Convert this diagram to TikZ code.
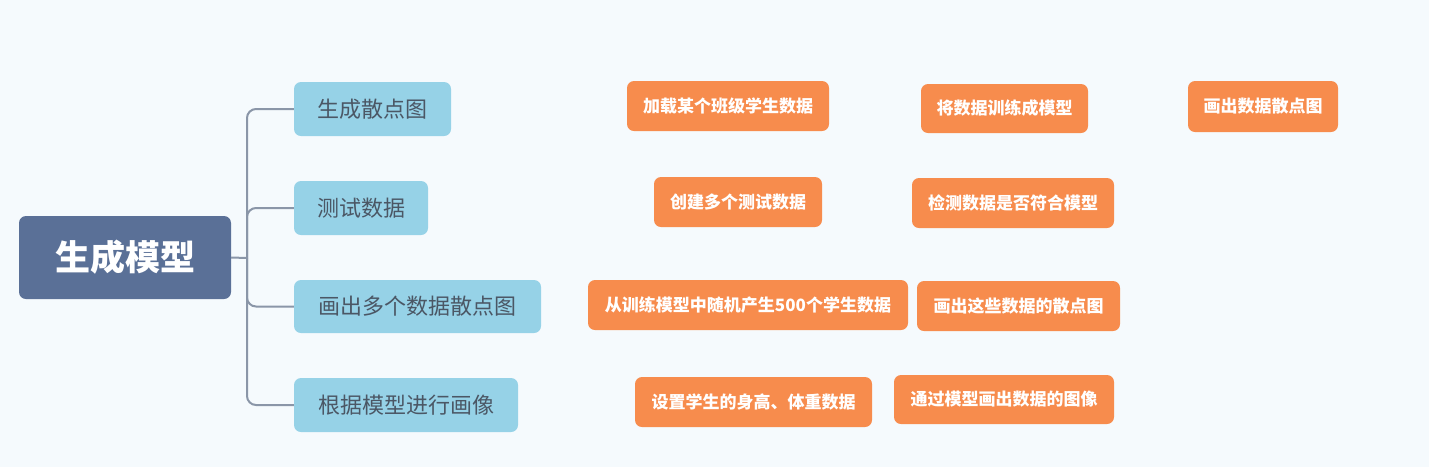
\documentclass[tikz,border=0pt]{standalone}
\usepackage{fontspec}
\newfontfamily\cjk{Noto Sans CJK SC}
\definecolor{bg}{HTML}{F5FAFD}
\definecolor{rootc}{HTML}{5A7097}
\definecolor{childc}{HTML}{96D2E7}
\definecolor{childt}{HTML}{4B5765}
\definecolor{orangec}{HTML}{F78C4D}
\definecolor{linec}{HTML}{8A96A8}
\tikzset{
  rootbox/.style={fill=rootc, rounded corners=7pt, inner sep=0pt, text=white,
    font=\cjk\bfseries\fontsize{35}{35}\selectfont},
  childbox/.style={fill=childc, rounded corners=7pt, inner sep=0pt, text=childt,
    font=\cjk\fontsize{22}{22}\selectfont},
  leafbox/.style={fill=orangec, rounded corners=7pt, inner sep=0pt, text=white,
    font=\cjk\bfseries\fontsize{17}{17}\selectfont},
  conn/.style={draw=linec, line width=2pt, rounded corners=9pt}
}
\begin{document}
\begin{tikzpicture}[x=1pt,y=-1pt]
\fill[bg] (0,0) rectangle (1429,467);
\useasboundingbox (0,0) rectangle (1429,467);
\node[rootbox, minimum width=212pt, minimum height=83pt] (root) at (125,257.5) {生成模型};
\node[childbox, minimum width=157pt, minimum height=54pt] (c1) at (372.5,109) {生成散点图};
\node[childbox, minimum width=134pt, minimum height=54pt] (c2) at (361,208) {测试数据};
\node[childbox, minimum width=247pt, minimum height=53pt] (c3) at (417.5,306.5) {画出多个数据散点图};
\node[childbox, minimum width=224pt, minimum height=54pt] (c4) at (406,405) {根据模型进行画像};
\node[leafbox, minimum width=202pt, minimum height=50pt] (l1a) at (728,106) {加载某个班级学生数据};
\node[leafbox, minimum width=167pt, minimum height=49pt] (l1b) at (1004.5,108.5) {将数据训练成模型};
\node[leafbox, minimum width=150pt, minimum height=51pt] (l1c) at (1263,106.5) {画出数据散点图};
\node[leafbox, minimum width=168pt, minimum height=50pt] (l2a) at (738,202) {创建多个测试数据};
\node[leafbox, minimum width=202pt, minimum height=50pt] (l2b) at (1013,203) {检测数据是否符合模型};
\node[leafbox, minimum width=320pt, minimum height=50pt] (l3a) at (748,305) {从训练模型中随机产生500个学生数据};
\node[leafbox, minimum width=203pt, minimum height=50pt] (l3b) at (1018.5,306) {画出这些数据的散点图};
\node[leafbox, minimum width=237pt, minimum height=50pt] (l4a) at (753.5,402) {设置学生的身高、体重数据};
\node[leafbox, minimum width=220pt, minimum height=49pt] (l4b) at (1004,399.5) {通过模型画出数据的图像};
\coordinate (j) at (247,258);
\draw[conn] (root.east) -- (j);
\draw[conn] (j) |- (c1.west);
\draw[conn] (j) |- (c2.west);
\draw[conn] (j) |- (c3.west);
\draw[conn] (j) |- (c4.west);
\end{tikzpicture}
\end{document}
